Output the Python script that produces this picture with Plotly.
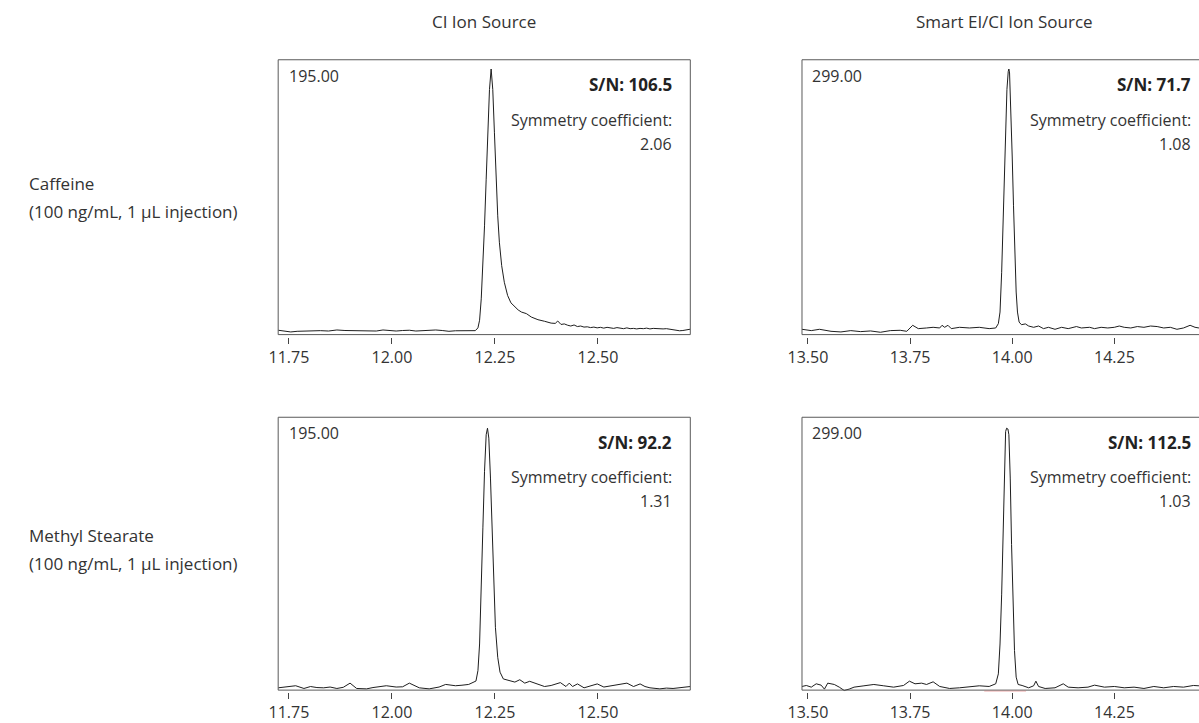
import plotly.graph_objects as go

# ---------------- data (retention time in min, relative intensity in %) ----------------
ci_caf_t = [11.724, 11.738, 11.7545, 11.770, 11.7865, 11.806, 11.8264, 11.846, 11.8664, 11.886,
            11.9064, 11.926, 11.9464, 11.962, 11.9783, 11.994, 12.0103, 12.026, 12.0423, 12.058,
            12.0743, 12.090, 12.1063, 12.122, 12.1383, 12.154, 12.1703, 12.186, 12.2023, 12.2087,
            12.2127, 12.2167, 12.2207, 12.2247, 12.2287, 12.2327, 12.2367, 12.2407, 12.2447, 12.2487,
            12.2527, 12.2567, 12.2607, 12.2663, 12.2727, 12.2807, 12.2887, 12.2983, 12.3063, 12.3143,
            12.3263, 12.3383, 12.3543, 12.3703, 12.3863, 12.3963, 12.4023, 12.4103, 12.4183, 12.4263,
            12.434, 12.442, 12.450, 12.458, 12.466, 12.474, 12.482, 12.490, 12.498, 12.506,
            12.514, 12.522, 12.530, 12.538, 12.546, 12.554, 12.562, 12.570, 12.578, 12.586,
            12.594, 12.602, 12.610, 12.618, 12.626, 12.634, 12.642, 12.650, 12.658, 12.666,
            12.674, 12.682, 12.690, 12.698, 12.706, 12.714, 12.724]
ci_caf_v = [0.9, 0.5, 0.25, 0.5, 0.6, 0.9, 0.75, 0.6, 1.0, 0.8,
            0.75, 0.9, 0.75, 0.6, 1.0, 0.8, 0.6, 0.8, 0.9, 0.6,
            0.75, 0.9, 1.0, 0.8, 0.5, 0.7, 0.75, 0.9, 0.75, 1.8,
            4.7, 12.8, 25.4, 40.5, 58.2, 75.8, 92.2, 100.0, 92.2, 75.8,
            58.2, 44.3, 34.3, 25.4, 19.1, 14.1, 11.3, 9.7, 8.6, 7.8,
            7.2, 5.9, 4.9, 4.3, 3.6, 3.5, 4.4, 3.1, 3.3, 2.8,
            2.5, 2.9, 2.3, 2.5, 2.1, 2.2, 1.9, 2.1, 1.8, 2.0,
            1.7, 2.0, 1.8, 1.6, 1.9, 1.6, 1.5, 1.8, 1.5, 1.6,
            1.4, 1.6, 1.5, 1.7, 1.4, 1.6, 1.5, 1.6, 1.4, 1.5,
            1.3, 1.0, 0.8, 0.7, 0.8, 1.0, 1.3]

ci_ms_t = [11.724, 11.745, 11.7665, 11.7865, 11.8025, 11.818, 11.8344, 11.850, 11.8664, 11.882,
           11.8984, 11.9144, 11.9384, 11.954, 11.9704, 11.9864, 12.0103, 12.026, 12.0423, 12.0664,
           12.0904, 12.1144, 12.1304, 12.1543, 12.170, 12.1863, 12.2039, 12.2087, 12.2127, 12.2167,
           12.2207, 12.2247, 12.2287, 12.2319, 12.2351, 12.2391, 12.2431, 12.2471, 12.2511, 12.2567,
           12.2623, 12.2703, 12.2823, 12.2983, 12.3103, 12.3223, 12.3343, 12.3463, 12.3583, 12.3703,
           12.3863, 12.4087, 12.4223, 12.4303, 12.4383, 12.4502, 12.4662, 12.482, 12.4982, 12.5142,
           12.530, 12.5462, 12.5702, 12.5862, 12.6022, 12.614, 12.6261, 12.6501, 12.666, 12.6821,
           12.7061, 12.724]
ci_ms_v = [0.5, 0.8, 1.3, 0.25, 1.0, 0.6, 0.5, 0.8, 0.25, 0.7,
           2.3, 0.25, 0.1, 0.6, 1.0, 1.3, 0.8, 0.9, 2.3, 0.5,
           0.1, 0.8, 1.8, 1.3, 1.5, 1.8, 3.1, 7.1, 17.3, 36.4,
           61.8, 83.5, 97.5, 100.0, 96.2, 80.9, 60.6, 40.2, 23.7, 12.2,
           6.5, 3.9, 3.3, 2.7, 3.6, 2.3, 3.0, 2.3, 1.4, 1.0,
           1.4, 2.5, 1.0, 2.3, 1.0, 2.0, 0.5, 1.2, 2.0, 0.8,
           1.2, 1.4, 2.3, 1.0, 2.0, 1.0, 0.5, 0.1, 0.4, 0.25,
           0.8, 1.0]

sm_caf_t = [13.4855, 13.5082, 13.5283, 13.5565, 13.5807, 13.6049, 13.6291, 13.6533, 13.6774, 13.7016,
            13.7258, 13.7419, 13.7564, 13.7701, 13.7903, 13.8064, 13.8225, 13.8282, 13.8346, 13.8427,
            13.8508, 13.8709, 13.8951, 13.9193, 13.9435, 13.9596, 13.966, 13.9701, 13.9741, 13.9773,
            13.9805, 13.9838, 13.987, 13.9902, 13.9918, 13.9934, 13.9967, 13.9999, 14.0031, 14.0063,
            14.0096, 14.0128, 14.0168, 14.0225, 14.0321, 14.0402, 14.0523, 14.0644, 14.0765, 14.0886,
            14.1047, 14.1208, 14.1369, 14.1571, 14.1692, 14.1893, 14.2014, 14.2175, 14.2337, 14.2498,
            14.2619, 14.274, 14.2901, 14.3062, 14.3223, 14.3385, 14.3546, 14.3707, 14.3868, 14.403,
            14.4191, 14.4352, 14.4473, 14.4569]
sm_caf_v = [1.26, 0.76, 1.26, 0.5, 0.25, 0.76, 0.38, 0.63, 0.13, 0.76,
            0.88, 0.5, 2.77, 1.51, 1.76, 2.01, 1.76, 2.77, 2.01, 2.77,
            1.51, 2.01, 1.76, 2.01, 1.51, 1.76, 3.4, 7.8, 22.9, 41.8,
            60.7, 78.3, 92.2, 99.1, 100.0, 98.5, 85.9, 67.0, 48.1, 29.2,
            15.4, 7.8, 4.0, 3.0, 3.3, 2.5, 2.01, 2.5, 1.51, 2.01,
            1.26, 2.01, 1.51, 2.3, 1.76, 2.01, 1.51, 2.01, 1.76, 2.01,
            2.5, 2.01, 1.76, 2.3, 2.01, 2.5, 2.3, 1.76, 2.01, 1.26,
            1.76, 2.77, 2.01, 1.76]

sm_ms_t = [13.4855, 13.4961, 13.5082, 13.5203, 13.5323, 13.5404, 13.5485, 13.5646, 13.5767, 13.5888,
           13.6009, 13.6129, 13.6371, 13.6613, 13.6855, 13.7097, 13.7339, 13.7484, 13.7621, 13.7782,
           13.7903, 13.8064, 13.8225, 13.8467, 13.8709, 13.8951, 13.9193, 13.9435, 13.9596, 13.966,
           13.9701, 13.9741, 13.9773, 13.9805, 13.9838, 13.9862, 13.9894, 13.9918, 13.9951, 13.9983,
           14.0015, 14.0055, 14.0096, 14.0144, 14.0241, 14.0402, 14.0523, 14.0579, 14.0644, 14.0805,
           14.1047, 14.1248, 14.1369, 14.1611, 14.1853, 14.2014, 14.2256, 14.2498, 14.274, 14.2981,
           14.3223, 14.3465, 14.3707, 14.3949, 14.4191, 14.4433, 14.4569]
sm_ms_v = [1.02, 1.4, 0.76, 2.04, 1.53, 0.0, 2.29, 1.78, 0.76, -0.51,
           0.0, 0.76, 1.27, 1.78, 1.27, 0.76, 1.4, 3.05, 2.04, 2.29,
           1.78, 2.8, 1.02, 0.25, 0.51, 0.76, 1.27, 1.02, 2.04, 5.85,
           17.3, 36.4, 61.8, 84.7, 98.7, 100.0, 99.7, 97.5, 80.9, 55.5,
           32.6, 14.8, 4.6, 1.78, 1.4, 0.51, 1.27, 3.05, 1.02, 0.25,
           0.51, 2.04, 0.76, 0.51, 0.76, 1.53, 0.76, 1.02, 0.51, 0.76,
           0.25, 1.02, 0.51, 1.02, 0.76, 1.4, 1.27]

ci_tickvals = [11.75, 12.00, 12.25, 12.50]
ci_ticktext = ["11.75", "12.00", "12.25", "12.50"]
sm_tickvals = [13.50, 13.75, 14.00, 14.25]
sm_ticktext = ["13.50", "13.75", "14.00", "14.25"]

column_titles = ["CI Ion Source", "Smart EI/CI Ion Source"]
row_names = ["Caffeine", "Methyl Stearate"]
row_detail = ["(100 ng/mL, 1 µL injection)", "(100 ng/mL, 1 µL injection)"]
mass_labels = ["195.00", "299.00", "195.00", "299.00"]
sn_values = ["106.5", "71.7", "92.2", "112.5"]
symmetry_values = ["2.06", "1.08", "1.31", "1.03"]

# ---------------- layout geometry (pixels) ----------------
W, H = 1199, 723
FONT = "Open Sans"
TEXT = "#333333"
BOX = "#5a5a5a"

def px(x):
    return x / W

def py(y):
    return 1 - y / H

panels = [
    dict(t=ci_caf_t, v=ci_caf_v, x0=267.3, x1=684.3, top=60, bot=336, zero=334, scale=2.647,
         xr=[11.724, 12.724], tv=ci_tickvals, tt=ci_ticktext, open_right=False, text_r=667.3),
    dict(t=sm_caf_t, v=sm_caf_v, x0=797.3, x1=1199, top=60, bot=336, zero=334, scale=2.647,
         xr=[13.4855, 14.457], tv=sm_tickvals, tt=sm_ticktext, open_right=True, text_r=1193.3),
    dict(t=ci_ms_t, v=ci_ms_v, x0=267.3, x1=684.3, top=419, bot=693, zero=692, scale=2.62,
         xr=[11.724, 12.724], tv=ci_tickvals, tt=ci_ticktext, open_right=False, text_r=667.3),
    dict(t=sm_ms_t, v=sm_ms_v, x0=797.3, x1=1199, top=419, bot=693, zero=692, scale=2.62,
         xr=[13.4855, 14.457], tv=sm_tickvals, tt=sm_ticktext, open_right=True, text_r=1193.3),
]

fig = go.Figure()
shapes = []
annotations = []
layout_axes = {}

for i, p in enumerate(panels):
    n = i + 1
    xa = "x" if n == 1 else f"x{n}"
    ya = "y" if n == 1 else f"y{n}"
    fig.add_trace(go.Scatter(x=p["t"], y=p["v"], xaxis=xa, yaxis=ya, mode="lines",
                             line=dict(color="#1e1e1e", width=1), hoverinfo="x+y",
                             showlegend=False))
    dom_bot = p["bot"] + 2
    layout_axes["xaxis" if n == 1 else f"xaxis{n}"] = dict(
        domain=[px(p["x0"]), min(px(p["x1"]), 1.0)], range=p["xr"], anchor=ya,
        showline=False, showgrid=False, zeroline=False, ticks="outside", ticklen=6,
        tickwidth=1, tickcolor="#444444", tickvals=p["tv"], ticktext=p["tt"],
        tickfont=dict(family=FONT, size=16, color=TEXT), fixedrange=True)
    layout_axes["yaxis" if n == 1 else f"yaxis{n}"] = dict(
        domain=[py(dom_bot), py(p["top"])],
        range=[(p["zero"] - dom_bot) / p["scale"], (p["zero"] - p["top"]) / p["scale"]],
        anchor=xa, visible=False, fixedrange=True)

    # frame
    bx0, bx1, by0, by1 = px(p["x0"]), min(px(p["x1"]), 1.0), py(p["bot"]), py(p["top"])
    if p["open_right"]:
        path = f"M {bx1},{by1} L {bx0},{by1} L {bx0},{by0} L {bx1},{by0}"
        shapes.append(dict(type="path", xref="paper", yref="paper", path=path,
                           line=dict(color=BOX, width=1)))
    else:
        shapes.append(dict(type="rect", xref="paper", yref="paper", x0=bx0, x1=bx1,
                           y0=by0, y1=by1, line=dict(color=BOX, width=1)))

    # texts inside panel
    annotations.append(dict(xref="paper", yref="paper", x=px(p["x0"] + 8.5), y=py(p["top"] + 16),
                            xanchor="left", yanchor="middle", showarrow=False,
                            text=mass_labels[i], font=dict(family=FONT, size=16, color=TEXT)))
    annotations.append(dict(xref="paper", yref="paper", x=px(p["text_r"]), y=py(p["top"] + 25),
                            xanchor="right", yanchor="middle", showarrow=False,
                            text=f"<b>S/N: {sn_values[i]}</b>",
                            font=dict(family=FONT, size=17, color="#222222")))
    annotations.append(dict(xref="paper", yref="paper", x=px(p["text_r"]), y=py(p["top"] + 60),
                            xanchor="right", yanchor="middle", showarrow=False,
                            text="Symmetry coefficient:", font=dict(family=FONT, size=16, color=TEXT)))
    annotations.append(dict(xref="paper", yref="paper", x=px(p["text_r"]), y=py(p["top"] + 84.5),
                            xanchor="right", yanchor="middle", showarrow=False,
                            text=symmetry_values[i], font=dict(family=FONT, size=16, color=TEXT)))

# faint integration marker under the Smart EI/CI methyl stearate peak
shapes.append(dict(type="line", xref="x4", yref="paper", x0=13.9315, x1=14.0338,
                   y0=py(694), y1=py(694), line=dict(color="rgba(220,90,90,0.45)", width=1)))

# column titles
for title, cx in zip(column_titles, [475.8, 1002]):
    annotations.append(dict(xref="paper", yref="paper", x=px(cx), y=py(22), xanchor="center",
                            yanchor="middle", showarrow=False, text=title,
                            font=dict(family=FONT, size=17, color=TEXT)))
# row labels
for name, detail, cy in zip(row_names, row_detail, [198, 552]):
    annotations.append(dict(xref="paper", yref="paper", x=px(13), y=py(cy - 14), xanchor="left",
                            yanchor="middle", showarrow=False, text=name,
                            font=dict(family=FONT, size=17, color=TEXT)))
    annotations.append(dict(xref="paper", yref="paper", x=px(13), y=py(cy + 14), xanchor="left",
                            yanchor="middle", showarrow=False, text=detail,
                            font=dict(family=FONT, size=17, color=TEXT)))

fig.update_layout(width=W, height=H, margin=dict(l=0, r=0, t=0, b=0),
                  paper_bgcolor="white", plot_bgcolor="white",
                  font=dict(family=FONT, color=TEXT), shapes=shapes, annotations=annotations,
                  **layout_axes)

fig.write_html("out.html",
               config={"displayModeBar": False, "staticPlot": True},
               post_script="document.documentElement.style.margin='0';"
                           "document.body.style.margin='0';"
                           "document.body.style.overflow='hidden';")
